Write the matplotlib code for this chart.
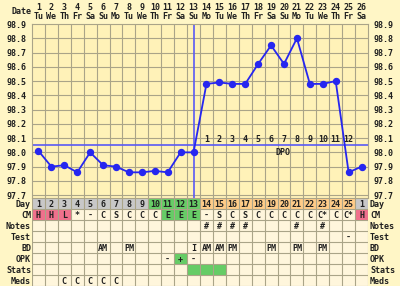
import matplotlib
matplotlib.use("Agg")
import matplotlib.pyplot as plt
import numpy as np

# chart data
days = np.arange(1, 27)
dates = [str(d) for d in range(1, 27)]
weekdays = ["Tu", "We", "Th", "Fr", "Sa", "Su", "Mo", "Tu", "We", "Th", "Fr", "Sa", "Su",
            "Mo", "Tu", "We", "Th", "Fr", "Sa", "Su", "Mo", "Tu", "We", "Th", "Fr", "Sa"]
temps = [98.01, 97.90, 97.91, 97.86, 98.00, 97.91, 97.90, 97.86, 97.86, 97.87, 97.86, 98.00, 98.00,
         98.48, 98.49, 98.48, 98.48, 98.62, 98.75, 98.62, 98.80, 98.48, 98.48, 98.50, 97.86, 97.90]
temp_ticks = [97.7, 97.8, 97.9, 98.0, 98.1, 98.2, 98.3, 98.4, 98.5, 98.6, 98.7, 98.8, 98.9]
coverline = 98.05
ovulation_day = 13
dpo_days = list(range(14, 26))
dpo_labels = [str(i) for i in range(1, 13)]

cycle_day_labels = [str(d) for d in range(1, 26)] + ["1"]
phase = ["gray"] * 9 + ["green"] * 4 + ["orange"] * 12 + ["gray"]
cm = ["H", "H", "L", "*", "-", "C", "S", "C", "C", "C", "E", "E", "E",
      "-", "S", "C", "S", "C", "C", "C", "C", "C", "C*", "C", "C*", "H"]
cm_fill = {1: "pink", 2: "pink", 3: "pink", 11: "green", 12: "green", 13: "green", 26: "pink"}
notes = {14: "#", 15: "#", 16: "#", 17: "#", 21: "#", 23: "#"}
test = {25: "-"}
bd = {6: "AM", 8: "PM", 13: "I", 14: "AM", 15: "AM", 16: "PM", 19: "PM", 21: "PM", 23: "PM"}
opk = {11: "-", 12: "+", 13: "-"}
opk_fill = {12: "green"}
stats_fill = {13: "green", 14: "green", 15: "green"}
meds = {3: "C", 4: "C", 5: "C", 6: "C", 7: "C"}
row_names = ["Day", "CM", "Notes", "Test", "BD", "OPK", "Stats", "Meds"]

colors = {"gray": "#c8c8c8", "green": "#66cc66", "orange": "#ffcc88", "pink": "#f0708c"}
bg = "#fff6c6"
plot_bg = "#fff2b8"
cell_bg = "#fff6dc"
grid_c = "#aaa488"
blue = "#2626f0"
cover_c = "#5a5af5"
txt = "#202020"
font = dict(family="DejaVu Sans Mono", fontweight="bold", fontsize=6, color=txt)

W, H = 400, 286
fig = plt.figure(figsize=(W / 100, H / 100), dpi=100, facecolor=bg)
x0, x1, ytop, ybot = 32, 368, 24, 198

# temperature chart
ax = fig.add_axes([x0 / W, 1 - ybot / H, (x1 - x0) / W, (ybot - ytop) / H])
ax.set_facecolor(plot_bg)
ax.set_xlim(0.5, 26.5)
ax.set_ylim(97.68, 98.9)
for xv in np.arange(1.5, 26.5, 1):
    ax.axvline(xv, color=grid_c, lw=0.8, zorder=1)
for yv in temp_ticks[:-1]:
    ax.axhline(yv, color=grid_c, lw=0.8, zorder=1)
for s in ax.spines.values():
    s.set_color(grid_c)
    s.set_linewidth(0.8)

ax.axhline(coverline, color=cover_c, lw=1.2, zorder=2)
ax.axvline(ovulation_day, color=cover_c, lw=1.2, zorder=2)
ax.plot(days, temps, color=blue, lw=1.3, marker="o", markersize=4.3, zorder=3)

for d, lab in zip(dpo_days, dpo_labels):
    ax.text(d, coverline + 0.012, lab, ha="center", va="bottom", **font)
ax.text(19.9, 98.0, "DPO", ha="center", va="center", **font)

ax.set_xticks([])
ax.set_yticks(temp_ticks)
ax.set_yticklabels([f"{t:.1f}" for t in temp_ticks],
                   fontdict=dict(family="DejaVu Sans Mono", fontweight="bold", fontsize=6))
ax.tick_params(axis="y", length=0, labelright=True, pad=4, labelcolor=txt)

# header: date and weekday
hx = ax.get_xaxis_transform()
for d, dt, wd in zip(days, dates, weekdays):
    ax.text(d, 1 + 16.5 / (ybot - ytop), dt, ha="center", va="center", transform=hx,
            clip_on=False, **font)
    ax.text(d, 1 + 7.5 / (ybot - ytop), wd, ha="center", va="center", transform=hx,
            clip_on=False, **font)
fig.text(31 / W, 1 - 12 / H, "Date", ha="right", va="center", **font)

# table below
tab = fig.add_axes([x0 / W, 0, (x1 - x0) / W, (H - ybot) / H])
tab.set_xlim(0.5, 26.5)
tab.set_ylim(len(row_names) * 1.0, 0)
tab.set_facecolor(cell_bg)
tab.set_xticks([])
tab.set_yticks([])
for s in tab.spines.values():
    s.set_visible(False)

tab.bar(days, 1, bottom=0, width=1, color=[colors[p] for p in phase], zorder=1)
tab.bar(list(cm_fill.keys()), 1, bottom=1, width=1,
        color=[colors[c] for c in cm_fill.values()], zorder=1)
tab.bar(list(opk_fill.keys()), 1, bottom=5, width=1,
        color=[colors[c] for c in opk_fill.values()], zorder=1)
tab.bar(list(stats_fill.keys()), 1, bottom=6, width=1,
        color=[colors[c] for c in stats_fill.values()], zorder=1)

for xv in np.arange(0.5, 27, 1):
    tab.axvline(xv, color=grid_c, lw=0.8, zorder=2)
for yv in range(0, len(row_names) + 1):
    tab.axhline(yv, color=grid_c, lw=0.8, zorder=2)

for d, lab in zip(days, cycle_day_labels):
    tab.text(d, 0.55, lab, ha="center", va="center", zorder=3, **font)
for d, lab in zip(days, cm):
    tab.text(d, 1.55, lab, ha="center", va="center", zorder=3, **font)
for row, vals in [(2, notes), (3, test), (4, bd), (5, opk), (7, meds)]:
    for d, lab in vals.items():
        tab.text(d, row + 0.55, lab, ha="center", va="center", zorder=3, **font)

ty = tab.get_yaxis_transform()
for i, name in enumerate(row_names):
    tab.text(-1 / (x1 - x0), i + 0.55, name, ha="right", va="center", transform=ty,
             clip_on=False, **font)
    tab.text(1 + 2 / (x1 - x0), i + 0.55, name, ha="left", va="center", transform=ty,
             clip_on=False, **font)

fig.savefig("out.png", dpi=100, facecolor=bg)
